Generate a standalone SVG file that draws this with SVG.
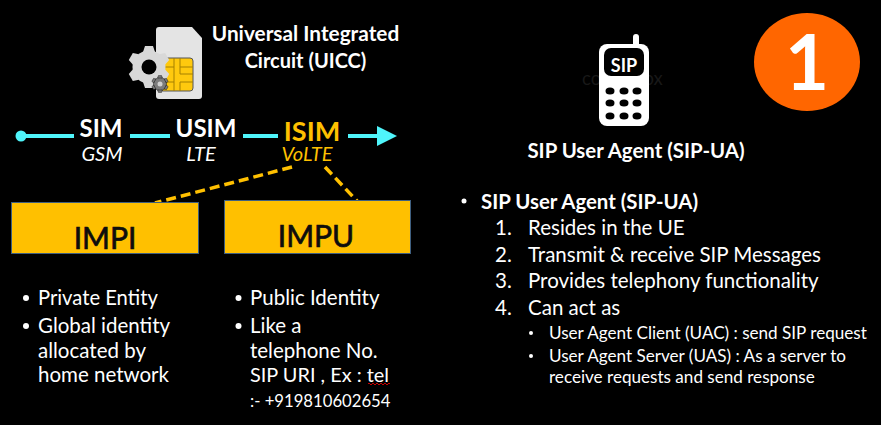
<svg xmlns="http://www.w3.org/2000/svg" width="881" height="425" viewBox="0 0 881 425">
<style>
text{font-family:Lato,"Liberation Sans",sans-serif;fill:#fff}
.b{font-weight:700}
.i{font-style:italic}
.s{font-size:17.100px}
.y{fill:#ffc000}
.cy{stroke:#4ff5fb;stroke-width:4;fill:none}
.da{stroke:#ffc000;stroke-width:3.500;stroke-dasharray:10 5;fill:none}
.box{fill:#ffc000;stroke:#3f5f80;stroke-width:1}
.bl{fill:#0d0d0d;stroke:#0d0d0d;stroke-width:.7}
.key{fill:#000}
.lg{fill:#d8d8d8}
.sg{fill:#7b7b7b}
</style>
<defs>
<path id="tooth" d="M-6 -15L-4 -21H4L6 -15Z"/>
<g id="gear">
<circle r="16.500"/>
<use href="#tooth"/><use href="#tooth" transform="rotate(60)"/><use href="#tooth" transform="rotate(120)"/><use href="#tooth" transform="rotate(180)"/><use href="#tooth" transform="rotate(240)"/><use href="#tooth" transform="rotate(300)"/>
</g>
</defs>
<rect width="881" height="425" fill="#000"/>
<g id="connectors">
<circle cx="21" cy="136" r="5.500" fill="#4ff5fb"/>
<path class="cy" d="M26 136H74M130 136H170M243 136H278M348 136H380"/>
<path d="M377 126L397 136L377 146Z" fill="#4ff5fb"/>
<path class="da" d="M292 167L155 203"/>
<path class="da" d="M325 167L358 202"/>
</g>
<g id="uicc">
<path d="M159 27H192L202 38V96Q202 99 199 99H159Q156 99 156 96V30Q156 27 159 27Z" fill="#e4e4e4"/>
<rect x="160" y="58" width="33" height="33" rx="3" fill="#ffc90e" stroke="#555" stroke-width="1"/>
<path d="M160 67H174V58M193 67H180V58M160 82H174V91M193 82H180V91M174 67V82M180 67V74H193" fill="none" stroke="#a58000" stroke-width="1"/>
<use href="#gear" class="lg" x="149" y="67"/>
<circle cx="149" cy="67" r="7.500" fill="#000"/>
<g transform="translate(160 84) scale(.4)" class="sg" stroke="#000" stroke-width="1"><use href="#gear"/></g>
<circle cx="160" cy="84" r="2.500" fill="#cfcfcf"/>
<text class="b" x="305.500" y="41" text-anchor="middle" font-size="20.800">Universal Integrated</text>
<text class="b" x="305.500" y="68" text-anchor="middle" font-size="20">Circuit (UICC)</text>
</g>
<g id="sim"><text class="b" x="101" y="137" text-anchor="middle" font-size="24">SIM</text><text class="i" x="102" y="161" text-anchor="middle" font-size="20">GSM</text></g>
<g id="usim"><text class="b" x="206" y="137" text-anchor="middle" font-size="24">USIM</text><text class="i" x="201" y="161" text-anchor="middle" font-size="20">LTE</text></g>
<g id="isim"><text class="b y" x="312" y="141" text-anchor="middle" font-size="27">ISIM</text><text class="i y" x="307" y="161" text-anchor="middle" font-size="20">VoLTE</text></g>
<g id="impi"><rect class="box" x="11.500" y="202.500" width="187" height="51"/><text class="bl" x="105" y="249" text-anchor="middle" font-size="30">IMPI</text></g>
<g id="impu"><rect class="box" x="224.500" y="200.500" width="186" height="53"/><text class="bl" x="316" y="247" text-anchor="middle" font-size="30">IMPU</text></g>
<g id="impi-notes" font-size="20.500">
<circle cx="26" cy="298" r="3" fill="#fff"/><text x="38" y="305" font-size="20.200">Private Entity</text>
<circle cx="26" cy="326" r="3" fill="#fff"/><text x="38" y="333">Global identity</text>
<text x="38" y="358">allocated by</text><text x="38" y="382">home network</text>
</g>
<g id="impu-notes" font-size="20.500">
<circle cx="238.500" cy="298" r="3" fill="#fff"/><text x="250" y="305">Public Identity</text>
<circle cx="238.500" cy="326" r="3" fill="#fff"/><text x="250" y="333">Like a</text>
<text x="250" y="358">telephone No.</text><text x="250" y="382" font-size="19.900">SIP URI , Ex : tel</text>
<path d="M368 384q1 -2 2 0t2 0t2 0t2 0t2 0t2 0t2 0t2 0t2 0t2 0t2 0" stroke="#c00" fill="none"/>
<text x="250" y="407" font-size="16.700">:- +919810602654</text>
</g>
<g id="phone">
<text x="582" y="85" font-size="18.500" style="fill:#181818">colourbox</text>
<path d="M636 46V37" stroke="#fff" stroke-width="6" stroke-linecap="round"/>
<rect x="599" y="44" width="50" height="82" rx="8" fill="#fff"/>
<rect x="604" y="48" width="40" height="28" rx="7" fill="#000"/>
<text class="b" x="624" y="72" text-anchor="middle" font-size="18">SIP</text>
<g class="key"><ellipse cx="610" cy="91" rx="4.500" ry="3.500"/><ellipse cx="624" cy="91" rx="4.500" ry="3.500"/><ellipse cx="637" cy="91" rx="4.500" ry="3.500"/><ellipse cx="610" cy="103" rx="4.500" ry="3.500"/><ellipse cx="624" cy="103" rx="4.500" ry="3.500"/><ellipse cx="637" cy="103" rx="4.500" ry="3.500"/><ellipse cx="610" cy="116" rx="4.500" ry="3.500"/><ellipse cx="624" cy="116" rx="4.500" ry="3.500"/><ellipse cx="637" cy="116" rx="4.500" ry="3.500"/></g>
<text class="b" x="636" y="158" text-anchor="middle" font-size="20.400">SIP User Agent (SIP-UA)</text>
</g>
<g id="badge"><ellipse cx="807" cy="62" rx="53" ry="49" fill="#ff6600"/><text class="b" x="807" y="90" text-anchor="middle" font-size="76">1</text></g>
<g id="details" font-size="20.500">
<circle cx="464" cy="201" r="2.500" fill="#fff"/>
<text class="b" x="481" y="209" font-size="20.400">SIP User Agent (SIP-UA)</text>
<text x="495" y="235">1.</text><text x="528" y="235">Resides in the UE</text>
<text x="495" y="262">2.</text><text x="528" y="262">Transmit &amp; receive SIP Messages</text>
<text x="495" y="288">3.</text><text x="528" y="288">Provides telephony functionality</text>
<text x="495" y="315">4.</text><text x="528" y="315">Can act as</text>
<circle cx="531" cy="333" r="2" fill="#fff"/><text class="s" x="549" y="339">User Agent Client (UAC) : send SIP request</text>
<circle cx="531" cy="356" r="2" fill="#fff"/><text class="s" x="549" y="362">User Agent Server (UAS) : As a server to</text>
<text class="s" x="549" y="383">receive requests and send response</text>
</g>
</svg>
